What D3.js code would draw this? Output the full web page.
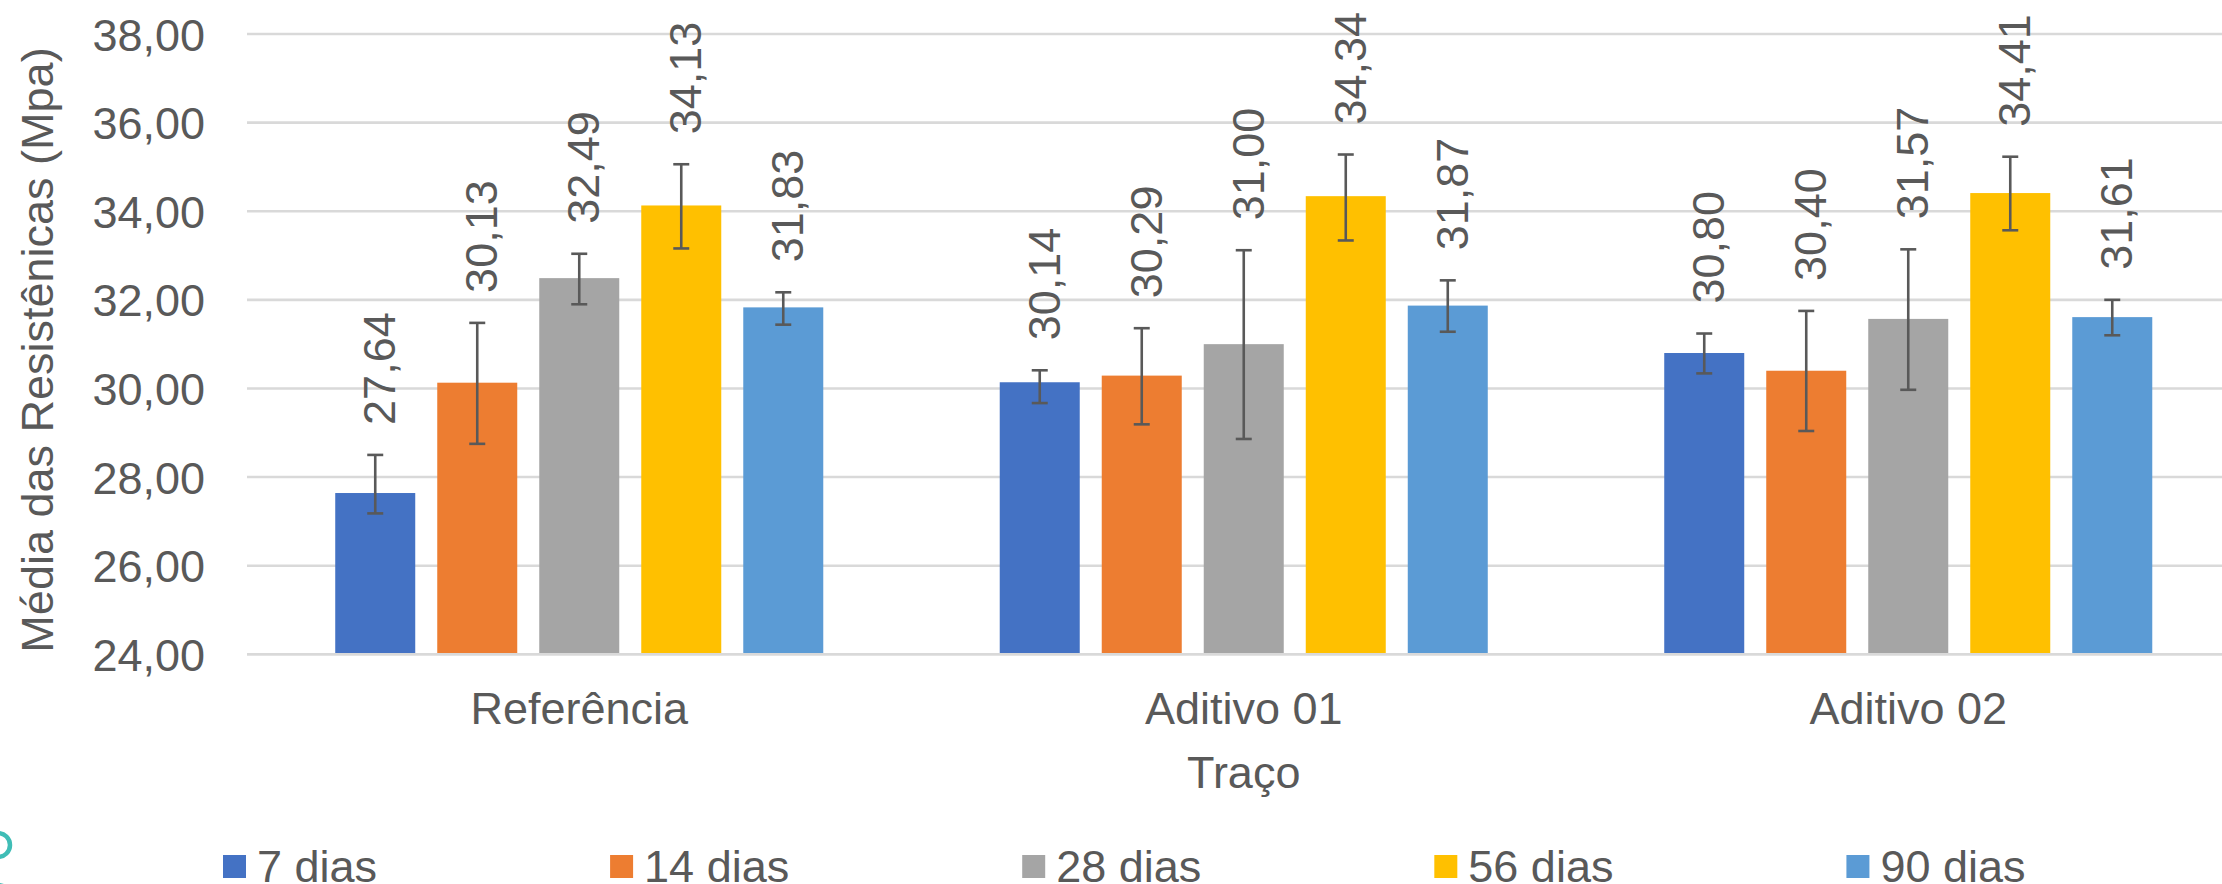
<!DOCTYPE html>
<html>
<head>
<meta charset="utf-8">
<script src="https://cdn.jsdelivr.net/npm/d3@7"></script>
<style>
  html, body { margin: 0; padding: 0; background: #ffffff; }
  svg { display: block; }
  text { font-family: "Liberation Sans", Arial, sans-serif; fill: #595959; }
</style>
</head>
<body>
<svg id="chart" width="2222" height="884"></svg>
<script>
// ---- data ----
const categories = ["Referência", "Aditivo 01", "Aditivo 02"];
const seriesNames = ["7 dias", "14 dias", "28 dias", "56 dias", "90 dias"];
const seriesColors = ["#4472C4", "#ED7D31", "#A5A5A5", "#FFC000", "#5B9BD5"];

const dias7  = [27.64, 30.14, 30.80];
const dias14 = [30.13, 30.29, 30.40];
const dias28 = [32.49, 31.00, 31.57];
const dias56 = [34.13, 34.34, 34.41];
const dias90 = [31.83, 31.87, 31.61];

// error bar extents (plus / minus)
const errPlus7  = [0.86, 0.27, 0.44];
const errMinus7 = [0.46, 0.47, 0.46];
const errPlus14  = [1.35, 1.07, 1.35];
const errMinus14 = [1.38, 1.10, 1.36];
const errPlus28  = [0.55, 2.12, 1.57];
const errMinus28 = [0.59, 2.14, 1.60];
const errPlus56  = [0.93, 0.94, 0.82];
const errMinus56 = [0.97, 1.00, 0.84];
const errPlus90  = [0.34, 0.57, 0.39];
const errMinus90 = [0.39, 0.59, 0.41];

const yTicks = [24, 26, 28, 30, 32, 34, 36, 38];
const yTitle = "Média das Resistênicas (Mpa)";
const xTitle = "Traço";

// ---- build table ----
const seriesValues = [dias7, dias14, dias28, dias56, dias90];
const seriesPlus = [errPlus7, errPlus14, errPlus28, errPlus56, errPlus90];
const seriesMinus = [errMinus7, errMinus14, errMinus28, errMinus56, errMinus90];
const rows = [];
categories.forEach((c, ci) => {
  seriesNames.forEach((s, si) => {
    rows.push({cat: c, ser: s, si: si, v: seriesValues[si][ci],
               plus: seriesPlus[si][ci], minus: seriesMinus[si][ci]});
  });
});

// ---- layout ----
const svg = d3.select("#chart");
const FS = 45;
const plotLeft = 247, plotRight = 2240.5, plotTop = 34, plotBottom = 654.3;

const x0 = d3.scaleBand().domain(categories).range([plotLeft, plotRight]).padding(0);
const x1 = d3.scaleBand().domain(seriesNames).range([0, x0.bandwidth()])
  .paddingInner(0.2157).paddingOuter(0.865);
const y = d3.scaleLinear().domain([24, 38]).range([plotBottom, plotTop]);
const fmt = v => d3.format(".2f")(v).replace(".", ",");

svg.append("rect").attr("width", 2222).attr("height", 884).attr("fill", "#ffffff");

// gridlines
svg.append("g").selectAll("line").data(yTicks).join("line")
  .attr("x1", plotLeft).attr("x2", plotRight)
  .attr("y1", d => y(d)).attr("y2", d => y(d))
  .attr("stroke", "#D9D9D9").attr("stroke-width", 2.6);

// y axis labels via d3 axis
const yAxis = d3.axisLeft(y).tickValues(yTicks).tickFormat(fmt).tickSize(0).tickPadding(0);
const gy = svg.append("g").attr("transform", `translate(${plotLeft - 42},0)`).call(yAxis);
gy.select(".domain").remove();
gy.selectAll("text").attr("font-size", FS).attr("fill", "#595959")
  .attr("font-family", "Liberation Sans, Arial, sans-serif")
  .attr("dy", null).attr("dominant-baseline", null)
  .attr("y", FS * 0.358);

// bars
const bars = svg.append("g");
bars.selectAll("rect").data(rows).join("rect")
  .attr("x", d => x0(d.cat) + x1(d.ser))
  .attr("y", d => y(d.v))
  .attr("width", x1.bandwidth())
  .attr("height", d => y(24) - y(d.v))
  .attr("fill", d => seriesColors[d.si]);

// error bars
const eb = svg.append("g").attr("stroke", "#595959").attr("stroke-width", 2.6).attr("fill", "none");
const cx = d => x0(d.cat) + x1(d.ser) + x1.bandwidth() / 2;
eb.selectAll("line.v").data(rows).join("line").attr("class", "v")
  .attr("x1", cx).attr("x2", cx)
  .attr("y1", d => y(d.v + d.plus)).attr("y2", d => y(d.v - d.minus));
eb.selectAll("line.t").data(rows).join("line").attr("class", "t")
  .attr("x1", d => cx(d) - 8).attr("x2", d => cx(d) + 8)
  .attr("y1", d => y(d.v + d.plus)).attr("y2", d => y(d.v + d.plus));
eb.selectAll("line.b").data(rows).join("line").attr("class", "b")
  .attr("x1", d => cx(d) - 8).attr("x2", d => cx(d) + 8)
  .attr("y1", d => y(d.v - d.minus)).attr("y2", d => y(d.v - d.minus));

// data labels (rotated)
svg.append("g").selectAll("text").data(rows).join("text")
  .attr("transform", d => `translate(${cx(d) + 20},${y(d.v + d.plus) - 30}) rotate(-90)`)
  .attr("text-anchor", "start")
  .attr("font-size", FS)
  .text(d => fmt(d.v));

// x category labels via axis
const xAxis = d3.axisBottom(x0).tickSize(0).tickPadding(0);
const gx = svg.append("g").attr("transform", `translate(0,${plotBottom})`).call(xAxis);
gx.select(".domain").remove();
gx.selectAll("text").attr("font-size", FS).attr("fill", "#595959")
  .attr("font-family", "Liberation Sans, Arial, sans-serif")
  .attr("dy", null).attr("y", 70);

// baseline
svg.append("line").attr("x1", plotLeft).attr("x2", plotRight)
  .attr("y1", y(24)).attr("y2", y(24)).attr("stroke", "#D9D9D9").attr("stroke-width", 2.6);

// axis titles
svg.append("text")
  .attr("transform", `translate(53,350) rotate(-90)`)
  .attr("text-anchor", "middle").attr("font-size", FS).text(yTitle);
svg.append("text")
  .attr("x", (plotLeft + plotRight) / 2).attr("y", 788)
  .attr("text-anchor", "middle").attr("font-size", FS).text(xTitle);

// legend
const lg = svg.append("g");
let lx = 223;
seriesNames.forEach((s, i) => {
  lg.append("rect").attr("x", lx).attr("y", 855).attr("width", 23).attr("height", 23)
    .attr("fill", seriesColors[i]);
  const t = lg.append("text").attr("x", lx + 34).attr("y", 882).attr("font-size", FS).text(s);
  lx += 34 + t.node().getComputedTextLength() + 233;
});

// teal artifact at bottom-left edge
svg.append("circle").attr("cx", -2).attr("cy", 845).attr("r", 12)
  .attr("fill", "none").attr("stroke", "#3FBDB6").attr("stroke-width", 4.5);
svg.append("circle").attr("cx", -2).attr("cy", 897).attr("r", 12)
  .attr("fill", "none").attr("stroke", "#3FBDB6").attr("stroke-width", 4.5);
</script>
</body>
</html>
